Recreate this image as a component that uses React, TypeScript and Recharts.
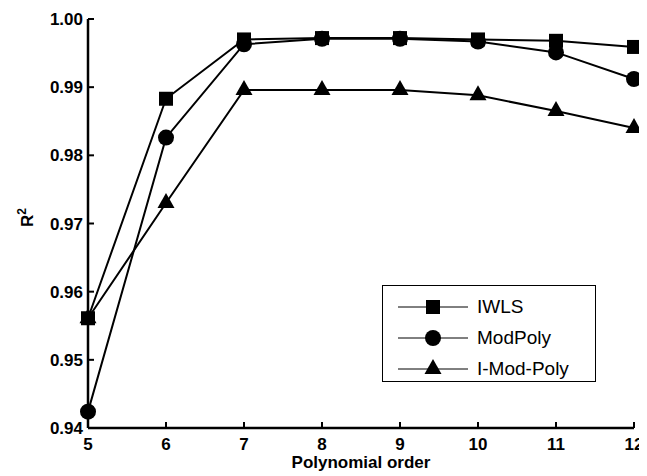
import { LineChart, Line, XAxis, YAxis, Legend } from "recharts";

const orders = [5, 6, 7, 8, 9, 10, 11, 12];
const iwls = [0.9561, 0.9883, 0.997, 0.9972, 0.9972, 0.997, 0.9968, 0.9959];
const modPoly = [0.9424, 0.9826, 0.9963, 0.9971, 0.9971, 0.9967, 0.9951, 0.9912];
const iModPoly = [0.9561, 0.973, 0.9896, 0.9896, 0.9896, 0.9888, 0.9865, 0.984];
const yTicks = [0.94, 0.95, 0.96, 0.97, 0.98, 0.99, 1.0];

const data = orders.map((o, i) => ({
  order: o,
  iwls: iwls[i],
  modPoly: modPoly[i],
  iModPoly: iModPoly[i],
}));

const font = "'Liberation Sans', Arial, Helvetica, sans-serif";
const axisStroke = { stroke: "#000", strokeWidth: 2.5 };
const tickStroke = { stroke: "#000", strokeWidth: 2 };

const SquareDot = (p: any) => (
  <rect key={p.key} x={p.cx - 7} y={p.cy - 7} width={14} height={14} fill="#000" />
);
const CircleDot = (p: any) => <circle key={p.key} cx={p.cx} cy={p.cy} r={8} fill="#000" />;
const TriangleDot = (p: any) => (
  <polygon
    key={p.key}
    points={`${p.cx},${p.cy - 10} ${p.cx - 8.5},${p.cy + 5} ${p.cx + 8.5},${p.cy + 5}`}
    fill="#000"
  />
);
// top/right axes: keep the tick marks, draw no labels
const NoLabel = () => <g />;

const legendItems = [
  { name: "IWLS", Dot: SquareDot },
  { name: "ModPoly", Dot: CircleDot },
  { name: "I-Mod-Poly", Dot: TriangleDot },
];

function LegendBox() {
  return (
    <div
      style={{
        width: 214,
        height: 97,
        boxSizing: "border-box",
        border: "1px solid #000",
        background: "#fff",
        paddingTop: 5,
      }}
    >
      {legendItems.map(({ name, Dot }) => (
        <div key={name} style={{ display: "flex", alignItems: "center", height: 31 }}>
          <svg width={94} height={24} style={{ flex: "none" }}>
            <line x1={15} x2={85} y1={12} y2={12} stroke="#000" strokeWidth={1} />
            <Dot cx={50} cy={12} />
          </svg>
          <span style={{ fontFamily: font, fontSize: 19, color: "#000", lineHeight: 1 }}>
            {name}
          </span>
        </div>
      ))}
    </div>
  );
}

const XLabel = ({ viewBox }: any) => (
  <text
    x={viewBox.x + viewBox.width / 2}
    y={viewBox.y + 40}
    textAnchor="middle"
    fontFamily={font}
    fontWeight="bold"
    fontSize={17}
    fill="#000"
  >
    Polynomial order
  </text>
);

const YLabel = ({ viewBox }: any) => {
  const x = viewBox.x + 5;
  const y = viewBox.y + viewBox.height / 2 - 6;
  return (
    <text
      x={x}
      y={y}
      transform={`rotate(-90 ${x} ${y})`}
      textAnchor="middle"
      fontFamily={font}
      fontWeight="bold"
      fontSize={17}
      fill="#000"
    >
      R<tspan fontSize={12} dy={-7}>2</tspan>
    </text>
  );
};

const tickStyle = { fontFamily: font, fontWeight: "bold", fontSize: 17, fill: "#000" };

export default function App() {
  return (
    <LineChart
      width={639}
      height={468}
      data={data}
      margin={{ top: 11, right: 13, bottom: 18, left: 20 }}
    >
      <XAxis
        dataKey="order"
        type="number"
        domain={[5, 12]}
        ticks={orders}
        height={30}
        tickSize={-6}
        tickMargin={16}
        tick={tickStyle}
        axisLine={axisStroke}
        tickLine={tickStroke}
        label={<XLabel />}
      />
      <YAxis
        type="number"
        domain={[0.94, 1.0]}
        ticks={yTicks}
        width={60}
        tickSize={-6}
        tickMargin={11}
        tick={tickStyle}
        tickFormatter={(v: number) => v.toFixed(2)}
        axisLine={axisStroke}
        tickLine={tickStroke}
        label={<YLabel />}
      />
      <XAxis
        xAxisId="top"
        orientation="top"
        dataKey="order"
        type="number"
        domain={[5, 12]}
        ticks={orders}
        height={0}
        tickSize={-6}
        tick={<NoLabel />}
        axisLine={axisStroke}
        tickLine={tickStroke}
      />
      <YAxis
        yAxisId="right"
        orientation="right"
        type="number"
        domain={[0.94, 1.0]}
        ticks={yTicks}
        width={0}
        tickSize={-6}
        tick={<NoLabel />}
        axisLine={axisStroke}
        tickLine={tickStroke}
      />
      <Legend
        layout="vertical"
        align="center"
        verticalAlign="middle"
        content={() => <LegendBox />}
        wrapperStyle={{ left: 374, top: 277, width: 214, height: 97 }}
      />
      <Line
        dataKey="iModPoly"
        stroke="#000"
        strokeWidth={2}
        dot={<TriangleDot />}
        activeDot={false}
        isAnimationActive={false}
      />
      <Line
        dataKey="iwls"
        stroke="#000"
        strokeWidth={2}
        dot={<SquareDot />}
        activeDot={false}
        isAnimationActive={false}
      />
      <Line
        dataKey="modPoly"
        stroke="#000"
        strokeWidth={2}
        dot={<CircleDot />}
        activeDot={false}
        isAnimationActive={false}
      />
    </LineChart>
  );
}
